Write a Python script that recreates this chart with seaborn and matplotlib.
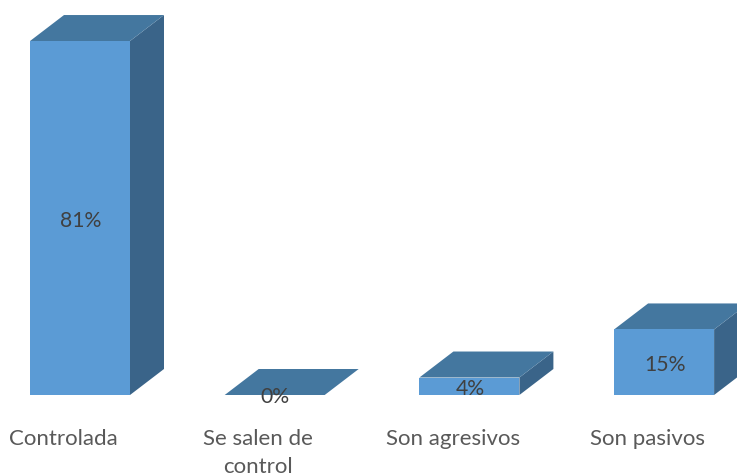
import matplotlib
matplotlib.use("Agg")
import matplotlib.pyplot as plt
import matplotlib.transforms as mtransforms
from matplotlib.patches import Polygon
import pandas as pd
import seaborn as sns

# --- DATA ---
categories = ["Controlada", "Se salen de\ncontrol", "Son agresivos", "Son pasivos"]
values = [81, 0, 4, 15]

# --- STYLE ---
FRONT = "#5B9BD5"
TOP = "#44779F"
SIDE = "#3A6489"
TEXT = "#404040"
LABEL = "#595959"
DEPTH_X = 34 / 194.7   # depth of the fake 3d box, in category units
DEPTH_Y = 26 / 4.37    # same, in percent units

sns.set_theme(style="white")
plt.rcParams["font.family"] = ["Lato", "DejaVu Sans"]

df = pd.DataFrame({"cat": categories, "val": values})

fig = plt.figure(figsize=(7.37, 4.77), dpi=100)
ax = fig.add_axes([0, 81 / 477, 1, 396 / 477])

sns.barplot(data=df, x="cat", y="val", color=FRONT, saturation=1, width=100 / 194.7,
            linewidth=0, ax=ax, zorder=3)

ax.set_xlim(-80 / 194.7, 657 / 194.7)
ax.set_ylim(0, 396 / 4.37)
ax.set_xlabel("")
ax.set_ylabel("")
ax.set_yticks([])
sns.despine(ax=ax, left=True, bottom=True, top=True, right=True)

# nudge for the value labels, they sit a little under the bar centre
label_shift = mtransforms.ScaledTranslation(0.7 / 100, -1.5 / 100, fig.dpi_scale_trans)

# depth faces, built from the bars seaborn drew
for bar, val in zip(ax.patches, values):
    x0 = bar.get_x()
    x1 = x0 + bar.get_width()
    h = bar.get_height()
    top = [(x0, h), (x1, h), (x1 + DEPTH_X, h + DEPTH_Y), (x0 + DEPTH_X, h + DEPTH_Y)]
    side = [(x1, 0), (x1 + DEPTH_X, DEPTH_Y), (x1 + DEPTH_X, h + DEPTH_Y), (x1, h)]
    ax.add_patch(Polygon(side, closed=True, facecolor=SIDE, edgecolor="none", zorder=2))
    ax.add_patch(Polygon(top, closed=True, facecolor=TOP, edgecolor="none", zorder=2))
    ax.text(x0 + bar.get_width() / 2, h / 2, f"{val}%", ha="center", va="center",
            fontsize=15.2, color=TEXT, zorder=5, clip_on=False,
            transform=ax.transData + label_shift)

# category labels sit a bit left of the bars in the original
ax.tick_params(axis="x", length=0, pad=24, labelsize=16, labelcolor=LABEL)
shift = mtransforms.ScaledTranslation(-16.5 / 100, 0, fig.dpi_scale_trans)
for lbl in ax.get_xticklabels():
    lbl.set_transform(lbl.get_transform() + shift)
    lbl.set_linespacing(1.45)

fig.savefig("out.png", dpi=100)
